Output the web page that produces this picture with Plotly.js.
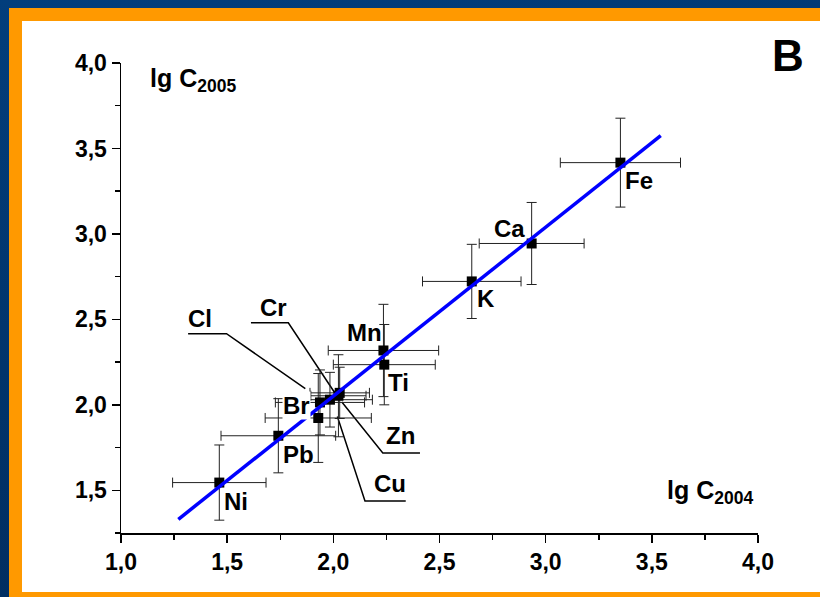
<!DOCTYPE html>
<html>
<head>
<meta charset="utf-8">
<script src="https://cdn.plot.ly/plotly-3.0.1.min.js"></script>
<style>
  html, body { margin: 0; padding: 0; }
  #frame { position: absolute; left: 0; top: 0; width: 820px; height: 597px;
    background: linear-gradient(170deg, #023e7c 0%, #01346b 50%, #002a5b 100%); overflow: hidden; }
  #orange { position: absolute; left: 9px; top: 8px; width: 820px; height: 589px; background: #ff9900; }
  #white { position: absolute; left: 22px; top: 21px; width: 800px; height: 571px; background: #ffffff; }
  #chart { position: absolute; left: 0; top: 0; width: 820px; height: 597px; }
</style>
</head>
<body>
<div id="frame"><div id="orange"></div><div id="white"></div><div id="chart"></div></div>
<script>
// Elements and their log concentrations (2004 on x, 2005 on y)
const elements = ["Ni", "Pb", "Br", "Cu", "Cl", "Cr", "Zn", "Mn", "Ti", "K", "Ca", "Fe"];
const lgC2004 = [1.463, 1.741, 1.937, 1.929, 1.984, 2.024, 2.030, 2.236, 2.240, 2.652, 2.934, 3.352];
const lgC2005 = [1.545, 1.819, 2.014, 1.923, 2.030, 2.053, 2.070, 2.318, 2.235, 2.722, 2.944, 3.417];
const err2004 = [0.22, 0.27, 0.21, 0.25, 0.20, 0.13, 0.14, 0.26, 0.24, 0.232, 0.247, 0.283];
const err2005 = [0.22, 0.217, 0.19, 0.26, 0.16, 0.24, 0.15, 0.27, 0.235, 0.217, 0.24, 0.26];

// Regression line end points
const fitX = [1.27, 3.542];
const fitY = [1.33, 3.575];

// Label anchor positions (data units)
const labelX = [1.542, 1.835, 1.828, 2.267, 1.372, 1.717, 2.314, 2.145, 2.306, 2.718, 2.832, 3.440];
const labelY = [1.433, 1.711, 1.995, 1.541, 2.503, 2.568, 1.819, 2.425, 2.131, 2.621, 3.032, 3.315];

// Leader lines (data units) for crowded labels
const leaders = {
  Cl: [[1.316, 2.416], [1.497, 2.416], [1.868, 2.095]],
  Cr: [[1.612, 2.480], [1.788, 2.480], [2.016, 2.053]],
  Zn: [[2.040, 2.016], [2.233, 1.718], [2.408, 1.718]],
  Cu: [[2.019, 1.932], [2.149, 1.437], [2.341, 1.437]]
};

const tickVals = [1.0, 1.5, 2.0, 2.5, 3.0, 3.5, 4.0];
const xTitle = "lg C<sub>2004</sub>";
const yTitle = "lg C<sub>2005</sub>";
const panelLetter = "B";

const FONT = "Arial, 'Liberation Sans', sans-serif";

const points = {
  x: lgC2004, y: lgC2005, type: "scatter", mode: "markers",
  marker: { symbol: "square", size: 10, color: "#000000" },
  error_x: { type: "data", array: err2004, visible: true, color: "#222222", thickness: 1, width: 5 },
  error_y: { type: "data", array: err2005, visible: true, color: "#222222", thickness: 1, width: 5 },
  hoverinfo: "skip", showlegend: false
};
const fit = {
  x: fitX, y: fitY, type: "scatter", mode: "lines",
  line: { color: "#0000ff", width: 3.5 }, hoverinfo: "skip", showlegend: false
};

const annotations = elements.map((e, i) => ({
  x: labelX[i], y: labelY[i], xref: "x", yref: "y", text: e, showarrow: false,
  font: { family: FONT, size: 24, color: "#000", weight: "bold" },
  bgcolor: e === "Br" ? "#ffffff" : "rgba(0,0,0,0)", borderpad: 0
}));
annotations.push({
  x: 1.127, y: 3.90, xref: "x", yref: "y", xanchor: "left", yanchor: "middle",
  text: yTitle, showarrow: false, font: { family: FONT, size: 25, color: "#000", weight: "bold" }
});
annotations.push({
  x: 3.562, y: 1.49, xref: "x", yref: "y", xanchor: "left", yanchor: "middle",
  text: xTitle, showarrow: false, font: { family: FONT, size: 25, color: "#000", weight: "bold" }
});
annotations.push({
  x: 1.047, y: 1.016, xref: "paper", yref: "paper", xanchor: "center", yanchor: "middle",
  text: panelLetter, showarrow: false, font: { family: FONT, size: 44, color: "#000", weight: "bold" }
});

const shapes = Object.keys(leaders).map(k => ({
  type: "path", xref: "x", yref: "y",
  path: leaders[k].map((p, j) => (j ? "L" : "M") + p[0] + "," + p[1]).join(" "),
  line: { color: "#000", width: 1.5 }, layer: "below"
}));

const axisCommon = {
  showgrid: false, zeroline: false, showline: true, linecolor: "#000", linewidth: 1.5,
  ticks: "outside", ticklen: 8, tickwidth: 1.5, tickcolor: "#000",
  tickvals: tickVals, tickformat: ".1f",
  tickfont: { family: FONT, size: 23, color: "#000", weight: "bold" },
  minor: { ticks: "outside", ticklen: 5, tickwidth: 1.5, tickcolor: "#000", dtick: 0.25 }
};

const layout = {
  width: 820, height: 597,
  margin: { l: 121, r: 62, t: 63, b: 64 },
  paper_bgcolor: "rgba(0,0,0,0)", plot_bgcolor: "rgba(0,0,0,0)",
  separators: ", ",
  xaxis: Object.assign({}, axisCommon, { range: [1.0, 4.0] }),
  yaxis: Object.assign({}, axisCommon, { range: [1.25, 4.0], tickvals: tickVals.slice(1) }),
  annotations: annotations, shapes: shapes, showlegend: false
};

Plotly.newPlot("chart", [points, fit], layout, { staticPlot: true, displayModeBar: false });
</script>
</body>
</html>
